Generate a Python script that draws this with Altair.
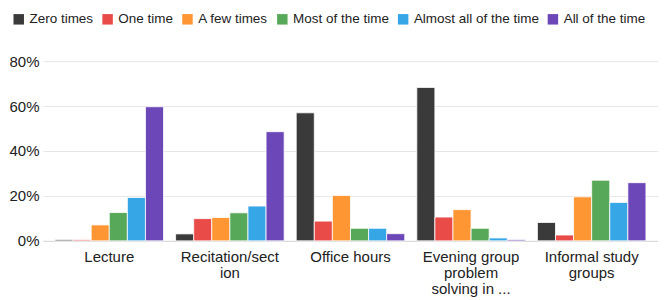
import altair as alt
import pandas as pd

categories = ["Lecture", "Recitation/sect|ion", "Office hours", "Evening group|problem|solving in ...", "Informal study|groups"]
series = ["Zero times", "One time", "A few times", "Most of the time", "Almost all of the time", "All of the time"]
colors = ["#3a3a3a", "#e84b48", "#fd9633", "#58a85a", "#36a6e6", "#6b47b8"]

zero_times = [0.006, 0.031, 0.570, 0.683, 0.082]
one_time = [0.005, 0.099, 0.088, 0.106, 0.026]
a_few_times = [0.071, 0.104, 0.202, 0.139, 0.196]
most_of_time = [0.126, 0.125, 0.056, 0.056, 0.270]
almost_all = [0.193, 0.155, 0.056, 0.013, 0.171]
all_of_time = [0.597, 0.486, 0.032, 0.006, 0.259]

values = [zero_times, one_time, a_few_times, most_of_time, almost_all, all_of_time]
rows = []
for s, vals in zip(series, values):
    for c, v in zip(categories, vals):
        rows.append({"category": c, "series": s, "value": v})
df = pd.DataFrame(rows)

font = "Liberation Sans"

chart = alt.Chart(df).mark_bar(stroke="white", strokeWidth=0.8).encode(
    x=alt.X("category:N", sort=categories,
            scale=alt.Scale(paddingInner=0.1, paddingOuter=0.1),
            axis=alt.Axis(title=None, labelAngle=0, ticks=False, domain=True,
                          domainColor="#d9d9d9", labelFontSize=15, labelColor="#222",
                          labelFont=font, labelPadding=9, labelLineHeight=16,
                          labelExpr="split(datum.label, '|')")),
    xOffset=alt.XOffset("series:N", sort=series),
    y=alt.Y("value:Q", scale=alt.Scale(domain=[0, 0.8]),
            axis=alt.Axis(title=None, format=".0%", values=[0, 0.2, 0.4, 0.6, 0.8],
                          ticks=False, domain=False, gridColor="#e6e6e6",
                          labelFontSize=15, labelColor="#222", labelFont=font,
                          labelPadding=4)),
    color=alt.Color("series:N", sort=series,
                    scale=alt.Scale(domain=series, range=colors),
                    legend=alt.Legend(title=None, orient="none", direction="horizontal",
                                      legendX=-31, legendY=-49, symbolType="square",
                                      symbolSize=110, symbolStrokeWidth=0,
                                      labelFontSize=13.5, labelFont=font, labelColor="#222",
                                      columnPadding=7, symbolOffset=0, labelOffset=4)),
).properties(width=616, height=180, padding={"left": 0, "top": 4, "right": 0, "bottom": 0}
).configure_view(stroke=None)

chart.save("out.html", embed_options={"renderer": "svg", "actions": False})
